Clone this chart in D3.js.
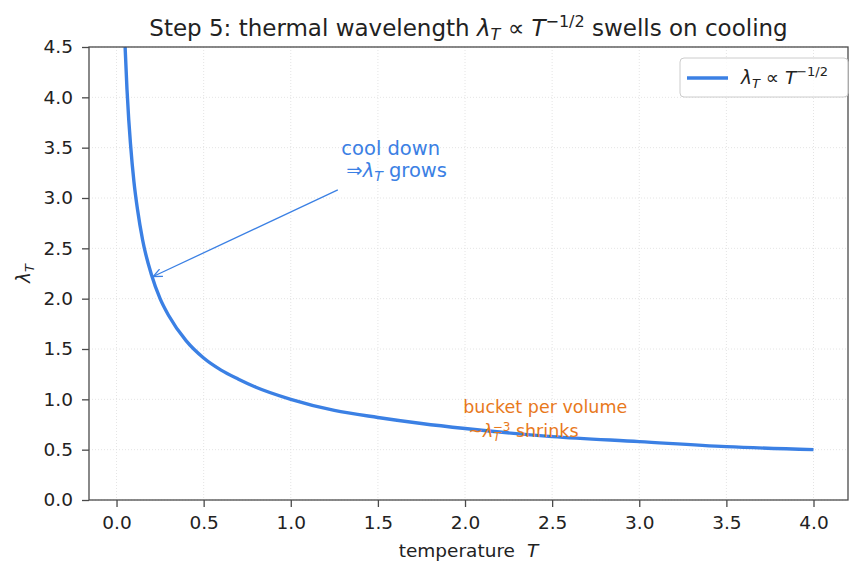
<!DOCTYPE html>
<html>
<head>
<meta charset="utf-8">
<script src="https://cdn.jsdelivr.net/npm/d3@7"></script>
<style>
  body { margin: 0; background: #fff; }
  svg { font-family: "DejaVu Sans", sans-serif; }
</style>
</head>
<body>
<div id="chart"></div>
<script>
// values
var temps = [0.04, 0.05, 0.06, 0.07, 0.08, 0.1, 0.12, 0.15, 0.2, 0.25, 0.3, 0.4, 0.5, 0.6, 0.7, 0.8, 1.0, 1.25, 1.5, 1.75, 2.0, 2.5, 3.0, 3.5, 4.0];
var lambdas = [5.0, 4.47, 4.08, 3.78, 3.54, 3.16, 2.89, 2.58, 2.24, 2.0, 1.83, 1.58, 1.41, 1.29, 1.20, 1.12, 1.0, 0.89, 0.82, 0.76, 0.71, 0.63, 0.58, 0.53, 0.5];
var xTicks = [0, 0.5, 1, 1.5, 2, 2.5, 3, 3.5, 4];
var yTicks = [0, 0.5, 1, 1.5, 2, 2.5, 3, 3.5, 4, 4.5];

var width = 862, height = 577;
var margin = {top: 47, right: 14, bottom: 77, left: 89};
var w = width - margin.left - margin.right,
    h = height - margin.top - margin.bottom;

var blue = "#3b80e4", orange = "#e8791c", axisCol = "#4a4a4a";

var svg = d3.select("#chart").append("svg")
  .attr("width", width)
  .attr("height", height);

var x = d3.scaleLinear().domain([-0.158, 4.198]).range([0, w]);
var y = d3.scaleLinear().domain([0, 4.5]).range([h, 0]);

var g = svg.append("g")
  .attr("transform", "translate(" + margin.left + "," + margin.top + ")");

g.append("defs").append("clipPath").attr("id", "clip")
  .append("rect").attr("width", w).attr("height", h);

// grid
g.append("g").selectAll("line").data(xTicks).enter().append("line")
  .attr("x1", function(d){ return x(d); }).attr("x2", function(d){ return x(d); })
  .attr("y1", 0).attr("y2", h)
  .attr("stroke", "#ddd").attr("stroke-width", 0.8).attr("stroke-dasharray", "1,2");
g.append("g").selectAll("line").data(yTicks).enter().append("line")
  .attr("y1", function(d){ return y(d); }).attr("y2", function(d){ return y(d); })
  .attr("x1", 0).attr("x2", w)
  .attr("stroke", "#ddd").attr("stroke-width", 0.8).attr("stroke-dasharray", "1,2");

// curve
var pts = temps.map(function(t, i){ return [t, lambdas[i]]; });
var line = d3.line()
  .x(function(d){ return x(d[0]); })
  .y(function(d){ return y(d[1]); })
  .curve(d3.curveMonotoneX);

g.append("path").datum(pts)
  .attr("clip-path", "url(#clip)")
  .attr("d", line)
  .attr("fill", "none")
  .attr("stroke", blue)
  .attr("stroke-width", 3.4);

// axes
var xAxis = g.append("g")
  .attr("transform", "translate(0," + h + ")")
  .call(d3.axisBottom(x).tickValues(xTicks).tickFormat(d3.format(".1f")).tickSize(7).tickPadding(9));
var yAxis = g.append("g")
  .call(d3.axisLeft(y).tickValues(yTicks).tickFormat(d3.format(".1f")).tickSize(7).tickPadding(9));

[xAxis, yAxis].forEach(function(a){
  a.select(".domain").remove();
  a.selectAll("line").attr("stroke", axisCol).attr("stroke-width", 1.3);
  a.selectAll("text").attr("fill", "#222").style("font-size", "18.5px").style("font-family", "DejaVu Sans");
});

// frame
g.append("rect").attr("width", w).attr("height", h)
  .attr("fill", "none").attr("stroke", axisCol).attr("stroke-width", 1.3);

// title
var title = svg.append("text")
  .attr("x", margin.left + w / 2).attr("y", 36)
  .attr("text-anchor", "middle")
  .style("font-size", "23px").attr("fill", "#222");
title.append("tspan").text("Step 5: thermal wavelength ");
title.append("tspan").style("font-style", "italic").text("λ");
title.append("tspan").style("font-style", "italic").style("font-size", "16px").attr("dy", 4).text("T");
title.append("tspan").attr("dy", -4).text(" ∝ ");
title.append("tspan").style("font-style", "italic").text("T");
title.append("tspan").style("font-size", "16px").attr("dy", -9).text("−1/2");
title.append("tspan").attr("dy", 9).text(" swells on cooling");

// axis labels
var xl = svg.append("text")
  .attr("x", margin.left + w / 2).attr("y", 557)
  .attr("text-anchor", "middle").style("font-size", "18.5px").attr("fill", "#222");
xl.append("tspan").text("temperature");
xl.append("tspan").attr("dx", 12).style("font-style", "italic").text("T");

var yl = svg.append("text")
  .attr("transform", "translate(30," + (margin.top + h / 2) + ") rotate(-90)")
  .attr("text-anchor", "middle").style("font-size", "18.5px").attr("fill", "#222");
yl.append("tspan").style("font-style", "italic").text("λ");
yl.append("tspan").style("font-style", "italic").style("font-size", "13px").attr("dy", 4).text("T");

// annotation: cool down
svg.append("defs").append("marker")
  .attr("id", "arr").attr("viewBox", "0 0 10 10").attr("refX", 9).attr("refY", 5)
  .attr("markerWidth", 10).attr("markerHeight", 10).attr("orient", "auto-start-reverse")
  .attr("markerUnits", "userSpaceOnUse")
  .append("path").attr("d", "M0,1 L9,5 L0,9").attr("fill", "none").attr("stroke", blue).attr("stroke-width", 1.3);

g.append("line")
  .attr("x1", x(1.27)).attr("y1", y(3.08))
  .attr("x2", x(0.21)).attr("y2", y(2.22))
  .attr("stroke", blue).attr("stroke-width", 1.3)
  .attr("marker-end", "url(#arr)");

g.append("text").attr("x", x(1.29)).attr("y", y(3.43))
  .style("font-size", "19.5px").attr("fill", blue).text("cool down");
var t2 = g.append("text").attr("x", x(1.29)).attr("y", y(3.21))
  .style("font-size", "19.5px").attr("fill", blue);
t2.append("tspan").attr("dx", 5).text("⇒");
t2.append("tspan").style("font-style", "italic").text("λ");
t2.append("tspan").style("font-style", "italic").style("font-size", "14px").attr("dy", 4).text("T");
t2.append("tspan").attr("dy", -4).text(" grows");

// annotation: bucket
g.append("text").attr("x", x(1.99)).attr("y", y(0.86))
  .style("font-size", "17.5px").attr("fill", orange).text("bucket per volume");
var t3 = g.append("text").attr("x", x(1.99)).attr("y", y(0.63))
  .style("font-size", "17.5px").attr("fill", orange);
t3.append("tspan").attr("dx", 5).text("~");
t3.append("tspan").style("font-style", "italic").text("λ");
t3.append("tspan").style("font-style", "italic").style("font-size", "12px").attr("dy", 4).text("T");
t3.append("tspan").style("font-size", "12px").attr("dy", -10).attr("dx", -8).text("−3");
t3.append("tspan").attr("dy", 6).text(" shrinks");

// legend
var lg = svg.append("g").attr("transform", "translate(680,58)");
lg.append("rect").attr("width", 168).attr("height", 39).attr("rx", 4)
  .attr("fill", "#fff").attr("fill-opacity", 0.8).attr("stroke", "#ccc");
lg.append("line").attr("x1", 7).attr("x2", 48).attr("y1", 20).attr("y2", 20)
  .attr("stroke", blue).attr("stroke-width", 3.4);
var lt = lg.append("text").attr("x", 61).attr("y", 26).style("font-size", "18.5px").attr("fill", "#222");
lt.append("tspan").style("font-style", "italic").text("λ");
lt.append("tspan").style("font-style", "italic").style("font-size", "13px").attr("dy", 4).text("T");
lt.append("tspan").attr("dy", -4).text(" ∝ ");
lt.append("tspan").style("font-style", "italic").text("T");
lt.append("tspan").style("font-size", "13px").attr("dy", -8).text("−1/2");
</script>
</body>
</html>
